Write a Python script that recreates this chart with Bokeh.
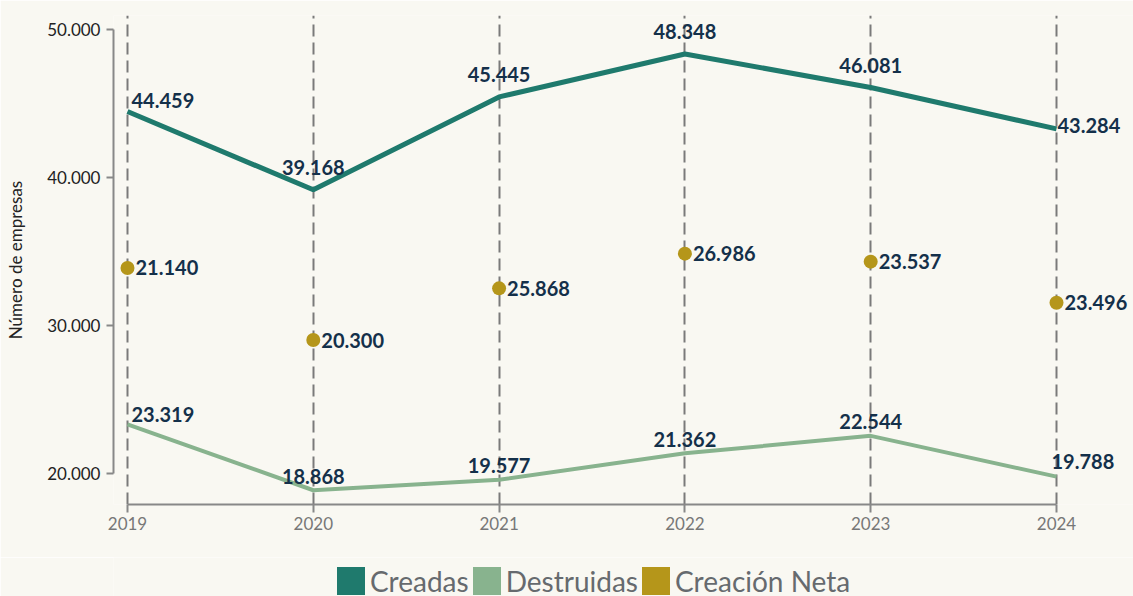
from bokeh.plotting import figure
from bokeh.layouts import column
from bokeh.models import (ColumnDataSource, FixedTicker, CustomJSTickFormatter,
                          Legend, LegendItem, Range1d)
from bokeh.core.properties import value
from bokeh.embed import file_html
from bokeh.resources import INLINE

# ---- data ----
years = [2019, 2020, 2021, 2022, 2023, 2024]
creadas = [44459, 39168, 45445, 48348, 46081, 43284]
destruidas = [23319, 18868, 19577, 21362, 22544, 19788]
neta = [21140, 20300, 25868, 26986, 23537, 23496]
y_ticks = [20000, 30000, 40000, 50000]
series_names = ["Creadas", "Destruidas", "Creación Neta"]


def fmt(v):
    return f"{v:,}".replace(",", ".")


BG = "#f9f8f2"
C_CRE = "#1f7a6d"
C_DES = "#88b38e"
C_NET = "#b5961a"
LBL = "#14304a"
FONT = "Lato"

fig = figure(frame_width=1020, frame_height=489, output_backend="svg", toolbar_location=None,
             x_range=Range1d(2018.9247, 2024.4144), y_range=Range1d(17905, 50946),
             background_fill_color=BG, border_fill_color=BG, outline_line_color=None,
             min_border_left=113, min_border_right=0, min_border_top=15,
             min_border_bottom=53)

# axes
ya = fig.yaxis[0]
ya.ticker = FixedTicker(ticks=y_ticks)
ya.bounds = (20000, 50000)
ya.formatter = CustomJSTickFormatter(
    code="return tick.toFixed(0).replace(/\\B(?=(\\d{3})+(?!\\d))/g, '.');")
ya.axis_line_color = "#888888"
ya.axis_line_width = 2
ya.major_tick_line_color = "#888888"
ya.major_tick_line_width = 2
ya.major_tick_out = 7
ya.major_tick_in = 0
ya.minor_tick_line_color = None
ya.major_label_standoff = 6
ya.major_label_text_font = FONT
ya.major_label_text_font_size = "17px"
ya.major_label_text_color = "#222222"
ya.axis_label = "Número de empresas"
ya.axis_label_text_font = FONT
ya.axis_label_text_font_style = "normal"
ya.axis_label_text_font_size = "17px"
ya.axis_label_text_color = "#222222"
ya.axis_label_standoff = 18

xa = fig.xaxis[0]
xa.ticker = FixedTicker(ticks=years)
xa.bounds = (years[0], years[-1])
xa.formatter = CustomJSTickFormatter(code="return tick.toFixed(0);")
xa.axis_line_color = "#888888"
xa.axis_line_width = 2
xa.major_tick_line_color = "#888888"
xa.major_tick_line_width = 2
xa.major_tick_out = 8
xa.major_tick_in = 0
xa.minor_tick_line_color = None
xa.major_label_standoff = 4
xa.major_label_text_font = FONT
xa.major_label_text_font_size = "17px"
xa.major_label_text_color = "#777777"

fig.xgrid.ticker = FixedTicker(ticks=years)
fig.xgrid.grid_line_color = "#7a7a7a"
fig.xgrid.grid_line_width = 2
fig.xgrid.grid_line_dash = "12 6"
fig.ygrid.grid_line_color = None

# marks
mid = [(a + b) / 2 for a, b in zip(creadas, destruidas)]
src = ColumnDataSource(dict(x=years, c=creadas, d=destruidas, n=neta, mid=mid))
fig.line("x", "c", source=src, line_color=C_CRE, line_width=5)
fig.line("x", "d", source=src, line_color=C_DES, line_width=4)
fig.scatter("x", "mid", source=src, size=14, fill_color=C_NET, line_color=None)


# labels
def label_layout(vals, above_off, first_off, last_base, last_yoff, last_xoff):
    n = len(vals)
    align, base, xo, yo = [], [], [], []
    for i in range(n):
        if i == 0:
            align.append("left"); base.append("alphabetic"); xo.append(4); yo.append(first_off)
        elif i == n - 1:
            align.append("left"); base.append(last_base); xo.append(last_xoff); yo.append(last_yoff)
        else:
            align.append("center"); base.append("alphabetic"); xo.append(0); yo.append(above_off)
    return dict(x=years, y=vals, t=[fmt(v) for v in vals],
                align=align, base=base, xo=xo, yo=yo)


for d in (label_layout(creadas, -22, -11, "middle", -3, 1),
          label_layout(destruidas, -14, -10, "alphabetic", -15, -5)):
    s = ColumnDataSource(d)
    fig.text("x", "y", text="t", source=s, text_align="align", text_baseline="base",
             x_offset="xo", y_offset="yo", text_font=value(FONT),
             text_font_style="bold", text_font_size="20px", text_color=LBL)

sn = ColumnDataSource(dict(x=years, y=mid, t=[fmt(v) for v in neta]))
fig.text("x", "y", text="t", source=sn, text_align="left", text_baseline="middle",
         x_offset=8, text_font=value(FONT), text_font_style="bold",
         text_font_size="20px", text_color=LBL)

# ---- legend strip (its own frame, so the legend is not clipped) ----
lf = figure(width=1133, height=39, output_backend="svg", toolbar_location=None,
            x_range=Range1d(0, 1), y_range=Range1d(0, 1),
            x_axis_location=None, y_axis_location=None,
            background_fill_color=BG, border_fill_color=BG, outline_line_color=None,
            min_border_left=0, min_border_right=0, min_border_top=0, min_border_bottom=0)
lf.xgrid.grid_line_color = None
lf.ygrid.grid_line_color = None

items = []
for name, col, vals in zip(series_names, [C_CRE, C_DES, C_NET], [creadas, destruidas, mid]):
    # zero-size quads: only their legend swatch is visible
    r = lf.quad(left=years, right=years, top=vals, bottom=vals,
                fill_color=col, line_color=None)
    items.append(LegendItem(label=name, renderers=[r]))

leg = Legend(items=items, orientation="horizontal", location=(220, -2),
             glyph_width=35, glyph_height=35, label_standoff=2, spacing=0,
             padding=0, margin=0, background_fill_alpha=0, border_line_color=None,
             label_text_font=FONT, label_text_font_size="28px",
             label_text_color="#666a6e")
lf.add_layout(leg, "center")

p = column(fig, lf, spacing=0)

open("out.html", "w").write(file_html(p, INLINE))
